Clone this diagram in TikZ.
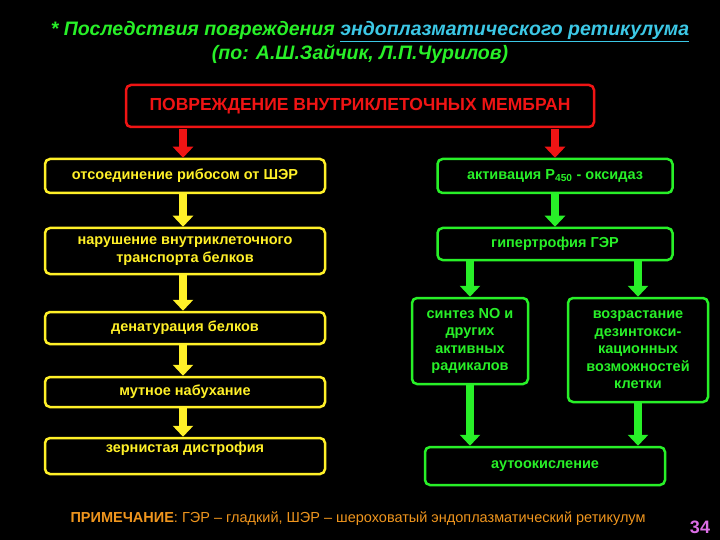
\documentclass[tikz,border=0pt]{standalone}
\usepackage{fontspec}
\setmainfont{Liberation Sans}
\usetikzlibrary{arrows.meta}
\definecolor{gr}{RGB}{40,240,40}
\definecolor{yl}{RGB}{255,240,40}
\definecolor{rd}{RGB}{240,20,20}
\definecolor{cy}{RGB}{60,200,230}
\definecolor{orng}{RGB}{240,150,30}
\definecolor{vio}{RGB}{220,110,230}
\begin{document}
\begin{tikzpicture}[x=1pt,y=-1pt,
 bx/.style={draw=#1,line width=2.5pt,rounded corners=5pt,fill=black,text=#1,font=\bfseries\fontsize{14.5}{17.5}\selectfont,align=center,inner sep=0pt},
 arr/.style={draw=#1,line width=8pt,-{Triangle[width=20pt,length=11pt]}}]
\useasboundingbox[fill=black] (0,0) rectangle (720,540);
\node[text=gr,font=\bfseries\itshape\fontsize{19.5}{22}\selectfont,anchor=base] (t1) at (370,36) {* Последствия повреждения \textcolor{cy}{\underline{эндоплазматического ретикулума}}};
\node[text=gr,font=\bfseries\itshape\fontsize{19.5}{22}\selectfont,anchor=base] (t2) at (360,60) {(по: А.Ш.Зайчик, Л.П.Чурилов)};
\node[bx=rd,minimum width=468,minimum height=42,font=\bfseries\fontsize{17.5}{20}\selectfont] (top) at (360,106) {ПОВРЕЖДЕНИЕ ВНУТРИКЛЕТОЧНЫХ МЕМБРАН};
\node[bx=yl,minimum width=280,minimum height=34] (a1) at (185,176) {отсоединение рибосом от ШЭР};
\node[bx=yl,minimum width=280,minimum height=46] (a2) at (185,251) {нарушение внутриклеточного\\транспорта белков};
\node[bx=yl,minimum width=280,minimum height=32] (a3) at (185,328) {денатурация белков};
\node[bx=yl,minimum width=280,minimum height=30] (a4) at (185,392) {мутное набухание};
\node[bx=yl,minimum width=280,minimum height=36,text depth=18pt] (a5) at (185,456) {зернистая дистрофия};
\node[bx=gr,minimum width=235,minimum height=34] (b1) at (555,176) {активация P\textsubscript{450} - оксидаз};
\node[bx=gr,minimum width=235,minimum height=32] (b2) at (555,244) {гипертрофия ГЭР};
\node[bx=gr,minimum width=116,minimum height=86] (c1) at (470,341) {синтез NO и\\других\\активных\\радикалов};
\node[bx=gr,minimum width=140,minimum height=104] (c2) at (638,350) {возрастание\\дезинтокси-\\кационных\\возможностей\\клетки};
\node[bx=gr,minimum width=240,minimum height=38] (d) at (545,466) {аутоокисление};
\draw[arr=rd] (183,129) -- (a1.north -| 183,0);
\draw[arr=rd] (555,129) -- (b1.north);
\draw[arr=yl] (a1.south -| 183,0) -- (a2.north -| 183,0);
\draw[arr=yl] (a2.south -| 183,0) -- (a3.north -| 183,0);
\draw[arr=yl] (a3.south -| 183,0) -- (a4.north -| 183,0);
\draw[arr=yl] (a4.south -| 183,0) -- (a5.north -| 183,0);
\draw[arr=gr] (b1.south) -- (b2.north);
\draw[arr=gr] (b2.south -| c1.north) -- (c1.north);
\draw[arr=gr] (b2.south -| c2.north) -- (c2.north);
\draw[arr=gr] (c1.south) -- (d.north -| c1.south);
\draw[arr=gr] (c2.south) -- (d.north -| c2.south);
\node[text=orng,font=\fontsize{14.5}{16}\selectfont,anchor=base] (note) at (358,522) {\textbf{ПРИМЕЧАНИЕ}: ГЭР – гладкий, ШЭР – шероховатый эндоплазматический ретикулум};
\node[text=vio,font=\bfseries\fontsize{18}{20}\selectfont,anchor=base] (pg) at (700,533) {34};
\end{tikzpicture}
\end{document}
